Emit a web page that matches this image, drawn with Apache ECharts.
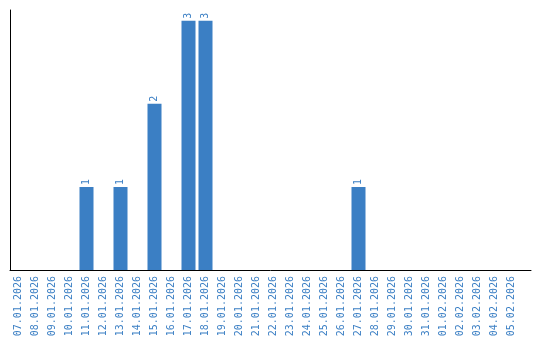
<!DOCTYPE html>
<html>
<head>
<meta charset="utf-8">
<script src="https://cdn.jsdelivr.net/npm/echarts@6/dist/echarts.min.js"></script>
<style>html,body{margin:0;padding:0;background:#fff}#c{width:540px;height:340px}</style>
</head>
<body>
<div id="c"></div>
<script>
var categories = ["07.01.2026","08.01.2026","09.01.2026","10.01.2026","11.01.2026","12.01.2026","13.01.2026","14.01.2026","15.01.2026","16.01.2026","17.01.2026","18.01.2026","19.01.2026","20.01.2026","21.01.2026","22.01.2026","23.01.2026","24.01.2026","25.01.2026","26.01.2026","27.01.2026","28.01.2026","29.01.2026","30.01.2026","31.01.2026","01.02.2026","02.02.2026","03.02.2026","04.02.2026","05.02.2026"];
var values = [0,0,0,0,1,0,1,0,2,0,3,3,0,0,0,0,0,0,0,0,1,0,0,0,0,0,0,0,0,0];

var blue = '#3b7fc4';
var font = '"DejaVu Sans Mono", monospace';
var chart = echarts.init(document.getElementById('c'), null, {renderer: 'canvas'});
chart.setOption({
  animation: false,
  grid: [
    {left: 10, top: 10, width: 510, bottom: 70, containLabel: false},
    {left: 10, top: 10, right: 9, bottom: 70, containLabel: false}
  ],
  xAxis: [
    {
      type: 'category', gridIndex: 0, data: categories, boundaryGap: true,
      axisLine: {show: false},
      axisTick: {show: false},
      axisLabel: {interval: 0, rotate: 90, color: blue, fontFamily: font, fontSize: 10, margin: 6}
    },
    {
      type: 'value', gridIndex: 1, min: 0, max: 1,
      axisLine: {show: true, onZero: false, lineStyle: {color: '#000', width: 1}},
      axisTick: {show: false}, axisLabel: {show: false}, splitLine: {show: false}
    }
  ],
  yAxis: [
    {
      type: 'value', gridIndex: 0, min: 0, max: 3.13,
      axisLine: {show: true, lineStyle: {color: '#000', width: 1}},
      axisTick: {show: false}, axisLabel: {show: false}, splitLine: {show: false}
    },
    {type: 'value', gridIndex: 1, show: false, min: 0, max: 1}
  ],
  series: [{
    type: 'bar', xAxisIndex: 0, yAxisIndex: 0,
    data: values.map(function(v){ return v === 0 ? null : v; }),
    barWidth: 14,
    itemStyle: {color: blue},
    label: {
      show: true, position: 'top', rotate: 90, align: 'left', verticalAlign: 'middle',
      distance: 2, color: blue, fontFamily: font, fontSize: 10
    }
  }]
});
</script>
</body>
</html>
